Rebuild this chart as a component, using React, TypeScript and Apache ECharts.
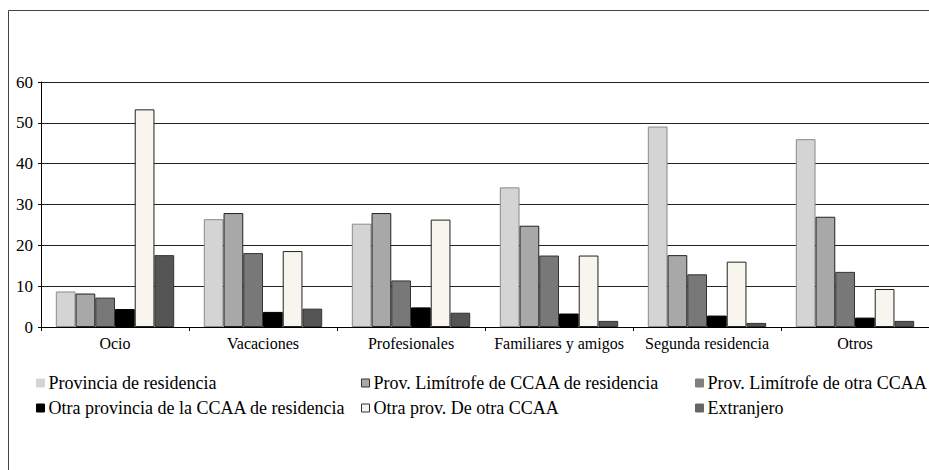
import React, { useEffect, useRef } from "react";
import * as echarts from "echarts";

const categories = ["Ocio", "Vacaciones", "Profesionales", "Familiares y amigos", "Segunda residencia", "Otros"];
const seriesNames = [
  "Provincia de residencia",
  "Prov. Limítrofe de CCAA de residencia",
  "Prov. Limítrofe de otra CCAA",
  "Otra provincia de la CCAA de residencia",
  "Otra prov. De otra CCAA",
  "Extranjero",
];
const provinciaResidencia = [8.7, 26.4, 25.3, 34.2, 49.1, 46.0];
const limitrofeCCAAResidencia = [8.2, 27.9, 27.9, 24.8, 17.6, 27.0];
const limitrofeOtraCCAA = [7.2, 18.1, 11.4, 17.5, 12.9, 13.5];
const otraProvinciaCCAA = [4.4, 3.7, 4.8, 3.3, 2.8, 2.3];
const otraProvOtraCCAA = [53.3, 18.6, 26.3, 17.5, 16.0, 9.3];
const extranjero = [17.6, 4.5, 3.5, 1.5, 1.0, 1.5];
const yTicks = [0, 10, 20, 30, 40, 50, 60];

const seriesValues = [
  provinciaResidencia,
  limitrofeCCAAResidencia,
  limitrofeOtraCCAA,
  otraProvinciaCCAA,
  otraProvOtraCCAA,
  extranjero,
];
const fills = ["#d4d4d4", "#a8a8a8", "#787878", "#000000", "#f8f5ee", "#555555"];
const borders = ["#8a8a8a", "#222222", "#333333", "#000000", "#222222", "#333333"];
const legendIconBorders = ["#d4d4d4", "#333333", "#808080", "#000000", "#333333", "#666666"];
const legendFills = ["#d4d4d4", "#a8a8a8", "#808080", "#000000", "#f8f5ee", "#666666"];

const FONT = "'Liberation Serif', 'DejaVu Serif', serif";

export default function App() {
  const ref = useRef<HTMLDivElement>(null);
  useEffect(() => {
    if (!ref.current) return;
    const chart = echarts.init(ref.current, null, { renderer: "svg" });
    const legendItem = (i: number) => ({
      name: seriesNames[i],
      itemStyle: { color: legendFills[i], borderColor: legendIconBorders[i], borderWidth: 1 },
    });
    const legendBase = {
      orient: "vertical" as const,
      itemWidth: 8,
      itemHeight: 8,
      itemGap: 7,
      icon: "rect",
      selectedMode: false,
      textStyle: { fontFamily: FONT, fontSize: 18, color: "#000", padding: [0, 0, 0, -1] },
      top: 369,
    };
    chart.setOption({
      animation: false,
      backgroundColor: "#ffffff",
      textStyle: { fontFamily: FONT },
      graphic: [
        {
          type: "rect",
          shape: { x: 8.5, y: 10.5, width: 1000, height: 1000 },
          style: { fill: "none", stroke: "#444", lineWidth: 1 },
          silent: true,
        },
      ],
      legend: [
        { ...legendBase, left: 31, data: [legendItem(0), legendItem(3)] },
        { ...legendBase, left: 356, data: [legendItem(1), legendItem(4)] },
        { ...legendBase, left: 690, data: [legendItem(2), legendItem(5)] },
      ],
      grid: { left: 41, top: 82, bottom: 143, right: -14, containLabel: false },
      xAxis: {
        type: "category",
        data: categories,
        axisLine: { lineStyle: { color: "#000", width: 1 } },
        axisTick: { show: true, length: 4, lineStyle: { color: "#000" } },
        axisLabel: { interval: 0, fontFamily: FONT, fontSize: 16, color: "#000", margin: 8 },
      },
      yAxis: {
        type: "value",
        min: yTicks[0],
        max: yTicks[yTicks.length - 1],
        interval: 10,
        axisLine: { show: true, lineStyle: { color: "#000", width: 1 } },
        axisTick: { show: true, length: 3, lineStyle: { color: "#000" } },
        axisLabel: { fontFamily: FONT, fontSize: 17, color: "#000", margin: 8 },
        splitLine: { lineStyle: { color: "#222", width: 1 } },
      },
      series: seriesNames.map((name, i) => ({
        name,
        type: "bar",
        data: seriesValues[i],
        barGap: "0%",
        barCategoryGap: "20%",
        itemStyle: { color: fills[i], borderColor: borders[i], borderWidth: 1 },
      })),
    });
    return () => chart.dispose();
  }, []);
  return (
    <div
      ref={ref}
      style={{ position: "fixed", left: 0, top: 0, width: 929, height: 470, background: "#fff" }}
    />
  );
}
